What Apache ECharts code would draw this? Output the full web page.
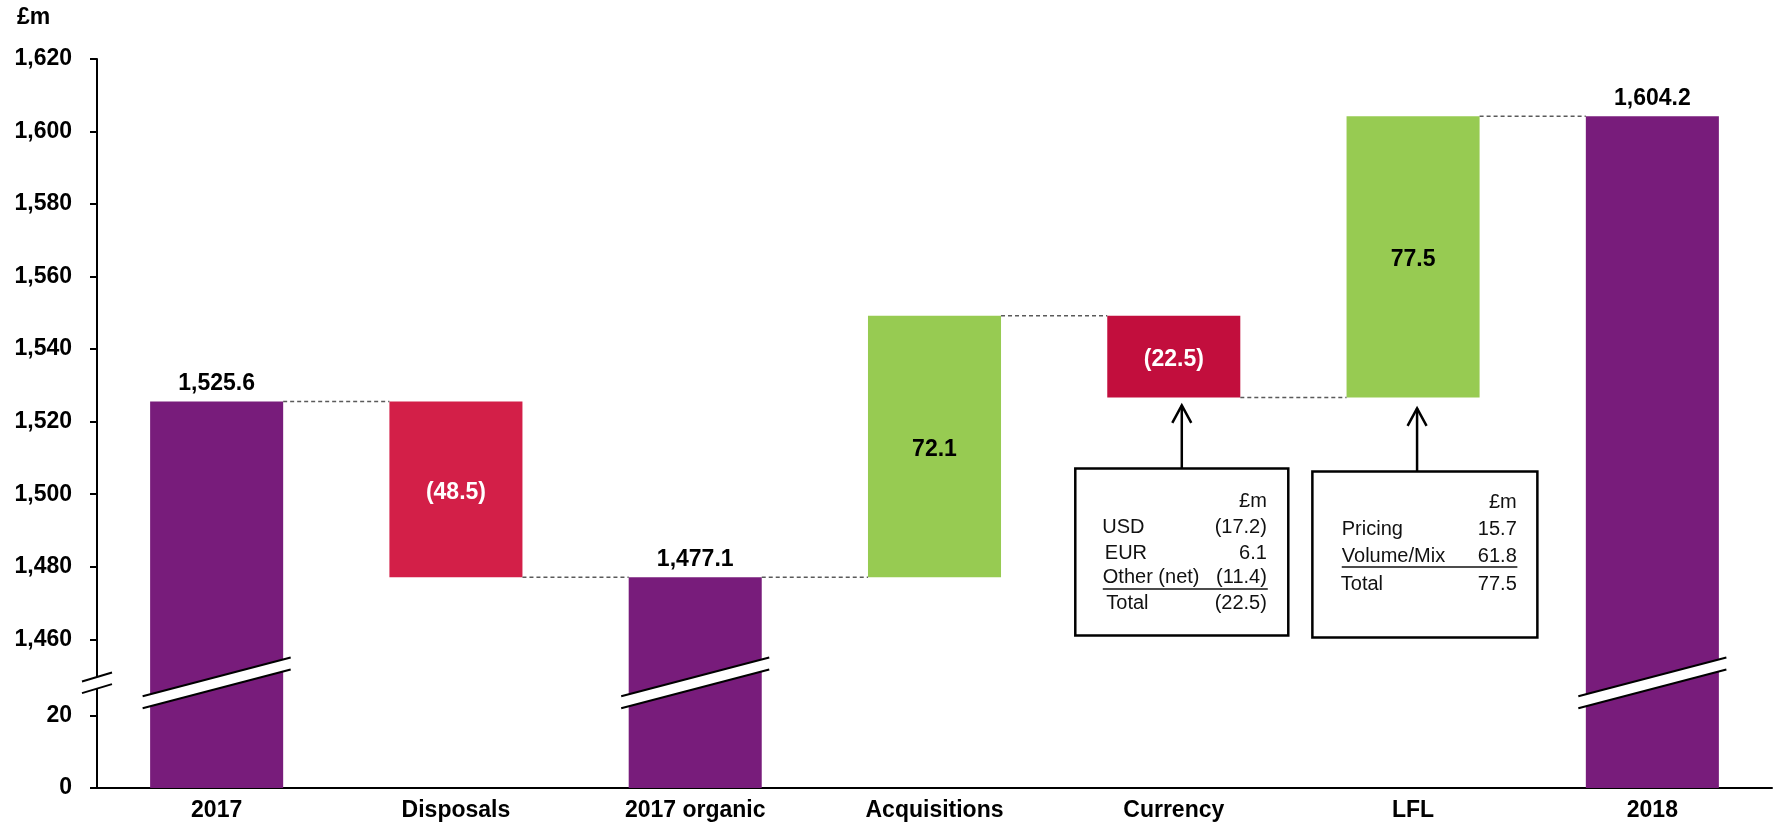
<!DOCTYPE html>
<html>
<head>
<meta charset="utf-8">
<script src="https://cdn.jsdelivr.net/npm/echarts@6/dist/echarts.min.js"></script>
<style>
html,body{margin:0;padding:0;background:#fff;}
#chart{width:1779px;height:827px;}
</style>
</head>
<body>
<div id="chart"></div>
<script>
// ---- data ----
const categories = ['2017', 'Disposals', '2017 organic', 'Acquisitions', 'Currency', 'LFL', '2018'];
const values = [1525.6, -48.5, 1477.1, 72.1, -22.5, 77.5, 1604.2];
const isTotal = [true, false, true, false, false, false, true];
const valueLabels = ['1,525.6', '(48.5)', '1,477.1', '72.1', '(22.5)', '77.5', '1,604.2'];
const yTickValues = [0, 20, 1460, 1480, 1500, 1520, 1540, 1560, 1580, 1600, 1620];
const currencyRows = [['USD', '(17.2)'], ['EUR', '6.1'], ['Other (net)', '(11.4)'], ['Total', '(22.5)']];
const lflRows = [['Pricing', '15.7'], ['Volume/Mix', '61.8'], ['Total', '77.5']];

// ---- broken axis mapping ----
const BREAK_SHIFT = 1419;     // 1460 -> 41
const BREAK_AT = 29;          // virtual position of break marks
function toV(v) { return v >= 1000 ? v - BREAK_SHIFT : v; }
const tickLabelMap = {};
yTickValues.forEach(v => { tickLabelMap[toV(v)] = v.toLocaleString('en-US'); });

// ---- waterfall computation ----
const COLORS = { total: '#781C7B', down: '#D31F48', down2: '#C20E3D', up: '#97CB52' };
let running = 0;
const baseData = [], barData = [], levels = [];
values.forEach((v, i) => {
  if (isTotal[i]) {
    running = v;
    baseData.push(0);
    barData.push({
      value: toV(v),
      itemStyle: { color: COLORS.total },
      label: { show: true, position: 'top', distance: 6, formatter: valueLabels[i], color: '#000' }
    });
    levels.push({ low: v, high: v, end: v });
  } else {
    const start = running, end = running + v;
    running = end;
    const low = Math.min(start, end), high = Math.max(start, end);
    baseData.push(toV(low));
    const down = v < 0;
    barData.push({
      value: high - low,
      itemStyle: { color: down ? (i === 4 ? COLORS.down2 : COLORS.down) : COLORS.up },
      label: {
        show: true, position: 'inside', formatter: valueLabels[i],
        color: down ? '#fff' : '#000',
        offset: [0, 3]
      }
    });
    levels.push({ low: low, high: high, end: end });
  }
});
// connector levels between bar i and i+1
const connectorData = [];
for (let i = 0; i < values.length - 1; i++) connectorData.push([i, toV(levels[i].end)]);
const breakData = categories.map((c, i) => isTotal[i] ? [i, BREAK_AT] : null).filter(Boolean);
const annotationData = [[4, toV(levels[4].low)], [5, toV(levels[5].low)]];

const BAR_RATIO = 0.556;
const FONT = '"Liberation Sans", Arial, Helvetica, sans-serif';

const boxes = [
  { dx: -98.5, w: 213, dy: 71, h: 167, arrowDx: 8, tip: 8,
    headerRight: 191.6, headerBase: 39.7,
    rows: currencyRows, rowBase: [65.7, 91.7, 116.4, 142.4], rowLeft: [27, 29.5, 27.5, 31],
    valueRight: 191.6, underline: { y: 120.7, x1: 27.5, x2: 192.5 } },
  { dx: -100.7, w: 225, dy: 74, h: 166, arrowDx: 4, tip: 11,
    headerRight: 204.4, headerBase: 38.3,
    rows: lflRows, rowBase: [65, 92.3, 120], rowLeft: [29.4, 29.4, 28.4],
    valueRight: 204.4, underline: { y: 95.6, x1: 29.4, x2: 205 } }
];

function txt(x, y, text, align) {
  return { type: 'text', style: { x: x, y: y - 7, text: text, fill: '#111',
    font: '20px ' + FONT, align: align, verticalAlign: 'middle' } };
}

const chart = echarts.init(document.getElementById('chart'), null, { renderer: 'canvas' });
chart.setOption({
  animation: false,
  backgroundColor: '#fff',
  textStyle: { fontFamily: FONT },
  title: { text: '£m', left: 12, top: 1, textStyle: { fontSize: 23, fontWeight: 'bold', color: '#000', fontFamily: FONT } },
  grid: { left: 97, right: 7, top: 59, bottom: 39, containLabel: false },
  xAxis: {
    type: 'category', data: categories,
    axisLine: { lineStyle: { color: '#000', width: 2 } },
    axisTick: { show: false },
    axisLabel: { color: '#000', fontSize: 23, fontWeight: 'bold', margin: 11, fontFamily: FONT }
  },
  yAxis: {
    type: 'value', min: 0, max: toV(1620),
    axisLine: { show: true, lineStyle: { color: '#000', width: 2 } },
    axisTick: { show: true, length: 7, lineStyle: { color: '#000', width: 2 }, customValues: yTickValues.map(toV) },
    axisLabel: { color: '#000', fontSize: 23, fontWeight: 'bold', margin: 25, fontFamily: FONT,
      customValues: yTickValues.map(toV),
      formatter: v => tickLabelMap[Math.round(v)] || '' },
    splitLine: { show: false }
  },
  series: [
    { type: 'bar', stack: 'wf', data: baseData, barWidth: (BAR_RATIO * 100) + '%',
      itemStyle: { color: 'transparent' }, silent: true },
    { type: 'bar', stack: 'wf', data: barData, barWidth: (BAR_RATIO * 100) + '%',
      label: { fontSize: 23, fontWeight: 'bold', fontFamily: FONT } },
    { type: 'custom', data: connectorData, z: 3, silent: true,
      renderItem: function (params, api) {
        const i = api.value(0), v = api.value(1);
        const p0 = api.coord([i, v]), p1 = api.coord([i + 1, v]);
        const bw = api.size([1, 0])[0] * BAR_RATIO;
        return { type: 'line', shape: { x1: p0[0] + bw / 2, y1: p0[1], x2: p1[0] - bw / 2, y2: p1[1] },
          style: { stroke: '#5a5a5a', lineWidth: 1.5, lineDash: [4, 3] } };
      } },
    { type: 'custom', data: breakData, z: 6, silent: true,
      renderItem: function (params, api) {
        const c = api.coord([api.value(0), api.value(1)]);
        const hw = api.size([1, 0])[0] * BAR_RATIO / 2 + 7.5;
        const k = 0.262, g = 6;
        return { type: 'group', children: [
          { type: 'polygon', shape: { points: [
            [c[0] - hw, c[1] - g + hw * k], [c[0] + hw, c[1] - g - hw * k],
            [c[0] + hw, c[1] + g - hw * k], [c[0] - hw, c[1] + g + hw * k]] },
            style: { fill: '#fff' } },
          { type: 'line', shape: { x1: c[0] - hw, y1: c[1] - g + hw * k, x2: c[0] + hw, y2: c[1] - g - hw * k },
            style: { stroke: '#000', lineWidth: 2 } },
          { type: 'line', shape: { x1: c[0] - hw, y1: c[1] + g + hw * k, x2: c[0] + hw, y2: c[1] + g - hw * k },
            style: { stroke: '#000', lineWidth: 2 } }
        ] };
      } },
    { type: 'custom', data: [[0, BREAK_AT]], z: 6, silent: true,
      renderItem: function (params, api) {
        const x = params.coordSys.x;
        const y = api.coord([0, api.value(1)])[1];
        const hl = 15, k = 0.3, g = 5.8;
        return { type: 'group', children: [
          { type: 'polygon', shape: { points: [
            [x - hl, y - g + hl * k], [x + hl, y - g - hl * k], [x + hl, y + g - hl * k], [x - hl, y + g + hl * k]] },
            style: { fill: '#fff' } },
          { type: 'line', shape: { x1: x - hl, y1: y - g + hl * k, x2: x + hl, y2: y - g - hl * k },
            style: { stroke: '#000', lineWidth: 2 } },
          { type: 'line', shape: { x1: x - hl, y1: y + g + hl * k, x2: x + hl, y2: y + g - hl * k },
            style: { stroke: '#000', lineWidth: 2 } }
        ] };
      } },
    { type: 'custom', data: annotationData, z: 7, silent: true,
      renderItem: function (params, api) {
        const cfg = boxes[params.dataIndex];
        const p = api.coord([api.value(0), api.value(1)]);
        const left = p[0] + cfg.dx, top = p[1] + cfg.dy;
        const ax = p[0] + cfg.arrowDx, tipY = p[1] + cfg.tip;
        const children = [
          { type: 'rect', shape: { x: left, y: top, width: cfg.w, height: cfg.h },
            style: { fill: '#fff', stroke: '#000', lineWidth: 2.5 } },
          { type: 'line', shape: { x1: ax, y1: top, x2: ax, y2: tipY }, style: { stroke: '#000', lineWidth: 2.5 } },
          { type: 'polyline', shape: { points: [[ax - 9.5, tipY + 17.5], [ax, tipY], [ax + 9.5, tipY + 17.5]] },
            style: { stroke: '#000', lineWidth: 2.5, fill: null } },
          txt(left + cfg.headerRight, top + cfg.headerBase, '£m', 'right')
        ];
        cfg.rows.forEach((r, j) => {
          children.push(txt(left + cfg.rowLeft[j], top + cfg.rowBase[j], r[0], 'left'));
          children.push(txt(left + cfg.valueRight, top + cfg.rowBase[j], r[1], 'right'));
        });
        children.push({ type: 'line', shape: { x1: left + cfg.underline.x1, y1: top + cfg.underline.y,
          x2: left + cfg.underline.x2, y2: top + cfg.underline.y }, style: { stroke: '#111', lineWidth: 1.5 } });
        return { type: 'group', children: children };
      } }
  ]
});
</script>
</body>
</html>
